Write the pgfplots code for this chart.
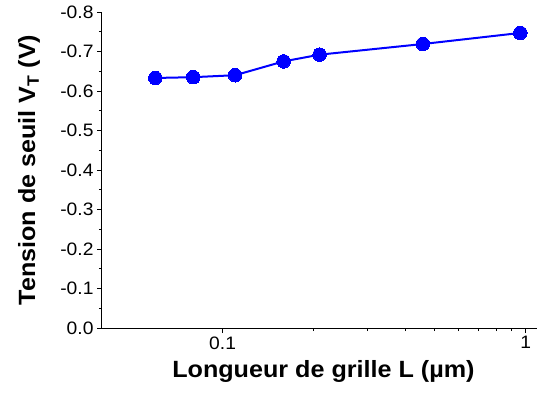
\documentclass[border=0pt]{standalone}
\usepackage{pgfplots}
\pgfplotsset{compat=1.18}
\usepackage{fontspec}
\setmainfont{Liberation Sans}[FakeStretch=1.07]
\begin{document}
\begin{tikzpicture}
\begin{axis}[
    scale only axis,
    at={(0pt,0pt)}, anchor=south west,
    width=435pt, height=316pt,
    xmode=log,
    xmin=0.04, xmax=1.09,
    ymin=-0.8, ymax=0,
    y dir=reverse,
    axis x line*=bottom,
    axis y line*=left,
    axis line style={line width=1pt},
    tick align=outside,
    major tick length=5pt,
    minor tick length=3pt,
    tick style={line width=1pt, black},
    xtick={0.1,1},
    xticklabels={0.1,1},
    ytick={0,-0.1,...,-0.8},
    minor y tick num=1,
    /pgf/number format/assume math mode=true,
    yticklabel style={/pgf/number format/.cd, fixed, fixed zerofill, precision=1},
    ticklabel style={font=\fontsize{18}{20}\selectfont},
    label style={font=\bfseries\fontsize{23.5}{25}\selectfont},
    xlabel={Longueur de grille L (µm)},
    ylabel={Tension de seuil V\textsubscript{T} (V)},
    xlabel style={at={(axis description cs:0.509,0)}, anchor=base, yshift=-49pt},
    ylabel style={at={(axis description cs:0,0.5)}, anchor=center, rotate=0, yshift=73pt},
    clip=false,
]
\addplot[blue, line width=2pt, mark=*, mark size=6.8pt,
         mark options={fill=blue, draw=blue, line width=0pt}]
  coordinates {
    (0.060,-0.633) (0.080,-0.635) (0.110,-0.640) (0.159,-0.675)
    (0.209,-0.692) (0.458,-0.719) (0.960,-0.747)
  };
\end{axis}
\pgfresetboundingbox
\path (-102pt,-68pt) rectangle (436pt,328pt);
\end{tikzpicture}
\end{document}
